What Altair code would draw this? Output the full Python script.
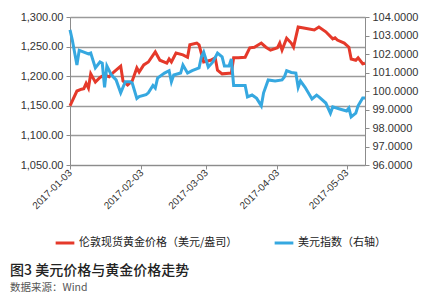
import altair as alt
import pandas as pd

# Gold price (USD/oz), left axis
gold_dates = ["2017-01-03", "2017-01-06", "2017-01-08", "2017-01-09", "2017-01-10", "2017-01-11",
              "2017-01-12", "2017-01-14", "2017-01-16", "2017-01-18", "2017-01-20", "2017-01-22",
              "2017-01-25", "2017-01-26", "2017-01-28", "2017-01-30", "2017-02-01", "2017-02-02",
              "2017-02-04", "2017-02-06", "2017-02-09", "2017-02-11", "2017-02-14", "2017-02-15",
              "2017-02-16", "2017-02-18", "2017-02-21", "2017-02-23", "2017-02-24", "2017-02-27",
              "2017-02-28", "2017-03-02", "2017-03-05", "2017-03-07", "2017-03-08", "2017-03-10",
              "2017-03-13", "2017-03-14", "2017-03-15", "2017-03-17", "2017-03-20", "2017-03-22",
              "2017-03-24", "2017-03-27", "2017-03-29", "2017-03-31", "2017-04-03", "2017-04-04",
              "2017-04-05", "2017-04-07", "2017-04-09", "2017-04-10", "2017-04-12", "2017-04-15",
              "2017-04-19", "2017-04-21", "2017-04-24", "2017-04-27", "2017-04-28", "2017-04-29",
              "2017-05-02", "2017-05-04", "2017-05-05", "2017-05-07", "2017-05-08", "2017-05-10",
              "2017-05-11"]
gold_values = [1150, 1175, 1178, 1179, 1188, 1180,
               1204, 1190, 1198, 1202, 1199, 1207,
               1217, 1192, 1185, 1192, 1214, 1207,
               1219, 1224, 1241, 1227, 1222, 1229,
               1224, 1239, 1236, 1232, 1253, 1256,
               1253, 1224, 1227, 1231, 1210, 1204,
               1205, 1205, 1231, 1231, 1232, 1248,
               1249, 1256, 1249, 1244, 1248, 1256,
               1244, 1264, 1256, 1249, 1283, 1281,
               1278, 1283, 1275, 1263, 1265, 1261,
               1256, 1249, 1229, 1227, 1231, 1221,
               1222]

# US dollar index, right axis
usd_dates = ["2017-01-03", "2017-01-04", "2017-01-06", "2017-01-07", "2017-01-09", "2017-01-11",
             "2017-01-12", "2017-01-14", "2017-01-16", "2017-01-17", "2017-01-18", "2017-01-19",
             "2017-01-21", "2017-01-23", "2017-01-25", "2017-01-27", "2017-01-29", "2017-01-30",
             "2017-02-01", "2017-02-02", "2017-02-05", "2017-02-06", "2017-02-08", "2017-02-09",
             "2017-02-10", "2017-02-13", "2017-02-15", "2017-02-16", "2017-02-17", "2017-02-20",
             "2017-02-21", "2017-02-23", "2017-02-25", "2017-02-28", "2017-03-01", "2017-03-02",
             "2017-03-04", "2017-03-06", "2017-03-08", "2017-03-10", "2017-03-11", "2017-03-13",
             "2017-03-14", "2017-03-15", "2017-03-17", "2017-03-20", "2017-03-21", "2017-03-23",
             "2017-03-25", "2017-03-27", "2017-03-28", "2017-03-30", "2017-04-02", "2017-04-05",
             "2017-04-06", "2017-04-07", "2017-04-09", "2017-04-11", "2017-04-12", "2017-04-13",
             "2017-04-15", "2017-04-18", "2017-04-20", "2017-04-21", "2017-04-24", "2017-04-26",
             "2017-04-27", "2017-04-30", "2017-05-03", "2017-05-04", "2017-05-05", "2017-05-07",
             "2017-05-08", "2017-05-10", "2017-05-11"]
usd_values = [103.30, 102.76, 101.40, 102.20, 102.10, 102.00,
              102.05, 101.25, 101.57, 101.50, 100.20, 101.35,
              100.86, 100.60, 99.90, 100.50, 100.50, 100.43,
              99.60, 99.70, 99.80, 99.90, 100.30, 100.16,
              100.70, 100.97, 101.10, 100.50, 100.86, 100.97,
              101.40, 100.97, 101.10, 101.25, 101.84, 102.10,
              101.30, 101.57, 102.05, 101.84, 101.35, 101.35,
              101.73, 100.30, 100.30, 100.30, 99.68, 99.78,
              99.60, 99.20, 99.90, 100.60, 100.54, 100.60,
              100.76, 101.10, 101.00, 100.97, 100.20, 100.54,
              100.20, 99.57, 99.78, 99.68, 99.35, 98.80,
              99.14, 99.03, 98.92, 99.08, 98.60, 98.80,
              99.20, 99.62, 99.62]

series_names = ["伦敦现货黄金价格（美元/盎司）", "美元指数（右轴）"]
series_colors = ["#E5392A", "#36A8E0"]
month_ticks = [alt.DateTime(year=2017, month=m, date=3) for m in [1, 2, 3, 4, 5]]

gold_df = pd.DataFrame({"date": [d + "T00:00:00" for d in gold_dates], "value": gold_values,
                        "series": series_names[0]})
usd_df = pd.DataFrame({"date": [d + "T00:00:00" for d in usd_dates], "value": usd_values,
                       "series": series_names[1]})

FONT = "Noto Sans CJK SC"
NUMFONT = "Liberation Sans"

x_enc = alt.X("date:T",
              scale=alt.Scale(domain=[alt.DateTime(year=2017, month=1, date=3),
                                      alt.DateTime(year=2017, month=5, date=11)]),
              axis=alt.Axis(values=month_ticks, format="%Y-%m-%d", labelAngle=-45,
                            labelAlign="right", labelBaseline="middle", labelFont=NUMFONT,
                            labelFontSize=10, labelColor="#333", domainColor="#8c8c8c",
                            tickColor="#8c8c8c", tickSize=4, grid=False, title=None,
                            labelPadding=2, labelOverlap=False))

color_enc = alt.Color("series:N",
                      scale=alt.Scale(domain=series_names, range=series_colors),
                      legend=alt.Legend(orient="none", legendX=-16, legendY=215,
                                        direction="horizontal", title=None,
                                        symbolType="stroke", symbolStrokeWidth=3,
                                        symbolSize=350, labelFont=FONT, labelFontSize=11,
                                        labelColor="#222", columnPadding=30, labelOffset=3))

gold = alt.Chart(gold_df).mark_line(strokeWidth=3).encode(
    x=x_enc,
    y=alt.Y("value:Q",
            scale=alt.Scale(domain=[1050, 1300], nice=False, zero=False),
            axis=alt.Axis(values=[1050, 1100, 1150, 1200, 1250, 1300], format=",.2f",
                          labelFont=NUMFONT, labelFontSize=11, labelColor="#333",
                          domainColor="#8c8c8c", tickColor="#8c8c8c", tickSize=4,
                          gridColor="#9a9a9a", gridWidth=1.5, title=None, labelPadding=3)),
    color=color_enc,
)

usd = alt.Chart(usd_df).mark_line(strokeWidth=3).encode(
    x=x_enc,
    y=alt.Y("value:Q",
            scale=alt.Scale(domain=[96, 104], nice=False, zero=False),
            axis=alt.Axis(orient="right", values=list(range(96, 105)), format=".4f",
                          labelFont=NUMFONT, labelFontSize=11, labelColor="#333",
                          domainColor="#8c8c8c", tickColor="#8c8c8c", tickSize=4,
                          grid=False, title=None, labelPadding=3)),
    color=color_enc,
)

chart = alt.layer(gold, usd).resolve_scale(y="independent").properties(
    width=295, height=148,
    padding={"left": 70, "top": 17, "right": 69, "bottom": 133},
    autosize=alt.AutoSizeParams(type="none"),
    title=alt.TitleParams(text="图3 美元价格与黄金价格走势", subtitle="数据来源：Wind",
                          orient="bottom", anchor="start", frame="group", dx=-60, offset=15,
                          font=FONT, fontSize=14, fontWeight=500, color="#222",
                          subtitleFont=FONT, subtitleFontSize=10.5, subtitleColor="#555",
                          subtitlePadding=5),
).configure_view(stroke=None).configure(background="white")

chart.save("out.html", embed_options={"renderer": "svg", "actions": False})
